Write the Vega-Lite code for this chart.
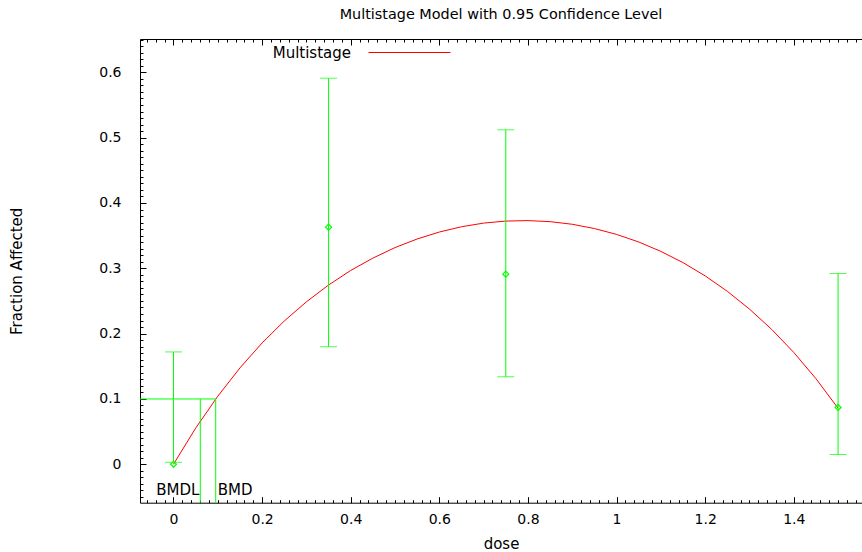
{
  "$schema": "https://vega.github.io/schema/vega-lite/v6.json",
  "width": 722,
  "height": 463.7,
  "autosize": {"type": "none"},
  "padding": {"left": 140, "top": 39, "right": 0, "bottom": 49.3},
  "background": "white",
  "title": {"text": "Multistage Model with 0.95 Confidence Level", "font": "DejaVu Sans", "fontSize": 14.4, "fontWeight": "normal", "color": "black", "offset": -11, "anchor": "middle"},
  "config": {
    "view": {"stroke": null},
    "font": "DejaVu Sans",
    "axis": {"grid": false, "domainColor": "black", "domainWidth": 1, "tickColor": "black", "tickWidth": 1, "labelColor": "black", "titleColor": "black", "labelFont": "DejaVu Sans", "labelFontSize": 14, "titleFont": "DejaVu Sans", "titleFontSize": 15, "titleFontWeight": "normal", "labelFlush": false, "labelOverlap": false}
  },
  "datasets": {
    "curve": [
      {"model": "Multistage", "dose": 0, "p": 0},
      {"model": "Multistage", "dose": 0.05, "p": 0.0553},
      {"model": "Multistage", "dose": 0.1, "p": 0.1042},
      {"model": "Multistage", "dose": 0.15, "p": 0.1475},
      {"model": "Multistage", "dose": 0.2, "p": 0.1857},
      {"model": "Multistage", "dose": 0.25, "p": 0.2193},
      {"model": "Multistage", "dose": 0.3, "p": 0.2487},
      {"model": "Multistage", "dose": 0.35, "p": 0.2744},
      {"model": "Multistage", "dose": 0.4, "p": 0.2967},
      {"model": "Multistage", "dose": 0.45, "p": 0.3156},
      {"model": "Multistage", "dose": 0.5, "p": 0.3317},
      {"model": "Multistage", "dose": 0.55, "p": 0.3449},
      {"model": "Multistage", "dose": 0.6, "p": 0.3555},
      {"model": "Multistage", "dose": 0.65, "p": 0.3636},
      {"model": "Multistage", "dose": 0.7, "p": 0.3692},
      {"model": "Multistage", "dose": 0.75, "p": 0.3723},
      {"model": "Multistage", "dose": 0.8, "p": 0.373},
      {"model": "Multistage", "dose": 0.85, "p": 0.3714},
      {"model": "Multistage", "dose": 0.9, "p": 0.3674},
      {"model": "Multistage", "dose": 0.95, "p": 0.3609},
      {"model": "Multistage", "dose": 1.0, "p": 0.3519},
      {"model": "Multistage", "dose": 1.05, "p": 0.3403},
      {"model": "Multistage", "dose": 1.1, "p": 0.3259},
      {"model": "Multistage", "dose": 1.15, "p": 0.3087},
      {"model": "Multistage", "dose": 1.2, "p": 0.2884},
      {"model": "Multistage", "dose": 1.25, "p": 0.2648},
      {"model": "Multistage", "dose": 1.3, "p": 0.2376},
      {"model": "Multistage", "dose": 1.35, "p": 0.2066},
      {"model": "Multistage", "dose": 1.4, "p": 0.1712},
      {"model": "Multistage", "dose": 1.45, "p": 0.1311},
      {"model": "Multistage", "dose": 1.5, "p": 0.0858}
    ],
    "obs": [
      {"dose": 0, "frac": 0, "lo": 0.003, "hi": 0.172},
      {"dose": 0.35, "frac": 0.363, "lo": 0.18, "hi": 0.591},
      {"dose": 0.75, "frac": 0.291, "lo": 0.134, "hi": 0.512},
      {"dose": 1.5, "frac": 0.087, "lo": 0.015, "hi": 0.292}
    ],
    "bmdlines": [
      {"x": -0.0756, "x2": 0.0953, "y": 0.1, "y2": 0.1},
      {"x": 0.0605, "x2": 0.0605, "y": 0.1, "y2": -0.0588},
      {"x": 0.0953, "x2": 0.0953, "y": 0.1, "y2": -0.0588}
    ],
    "bmdtext": [
      {"x": 0.0605, "y": -0.039, "label": "BMDL"},
      {"x": 0.0953, "y": -0.039, "label": "BMD"}
    ]
  },
  "resolve": {"axis": {"x": "independent", "y": "independent"}},
  "layer": [
    {
      "data": {"name": "curve"},
      "mark": {"type": "line", "strokeWidth": 1, "clip": true},
      "encoding": {
        "x": {"field": "dose", "type": "quantitative", "scale": {"domain": [-0.0756, 1.554], "nice": false, "zero": false},
          "axis": {"orient": "bottom", "values": [0, 0.2, 0.4, 0.6, 0.8, 1, 1.2, 1.4], "format": "~g", "tickSize": -6, "labelPadding": 16, "title": "dose", "titlePadding": 10}},
        "y": {"field": "p", "type": "quantitative", "scale": {"domain": [-0.0588, 0.651], "nice": false, "zero": false},
          "axis": {"orient": "left", "values": [0, 0.1, 0.2, 0.3, 0.4, 0.5, 0.6], "format": "~g", "tickSize": -6, "labelPadding": 25, "title": "Fraction Affected", "titlePadding": 74}},
        "color": {"field": "model", "type": "nominal", "scale": {"range": ["#ff0000"]},
          "legend": {"orient": "none", "legendX": 228, "legendY": -28, "title": null, "symbolType": "stroke", "symbolSize": 6724, "symbolStrokeWidth": 1, "labelFont": "DejaVu Sans", "labelFontSize": 15, "labelColor": "black", "labelAlign": "right", "labelOffset": -100, "padding": 0}}
      }
    },
    {
      "data": {"name": "obs"},
      "mark": {"type": "rule", "color": "#00ff00", "strokeWidth": 1},
      "encoding": {
        "x": {"field": "dose", "type": "quantitative", "scale": {"domain": [-0.0756, 1.554], "nice": false, "zero": false},
          "axis": {"orient": "bottom", "tickCount": 80, "labels": false, "domain": false, "tickSize": -3, "title": null}},
        "y": {"field": "lo", "type": "quantitative", "scale": {"domain": [-0.0588, 0.651], "nice": false, "zero": false},
          "axis": {"orient": "left", "tickCount": 70, "labels": false, "domain": false, "tickSize": -3, "title": null}},
        "y2": {"field": "hi"}
      }
    },
    {
      "data": {"name": "obs"},
      "transform": [{"fold": ["lo", "hi"], "as": ["bound", "value"]}],
      "mark": {"type": "tick", "orient": "horizontal", "color": "#00ff00", "size": 17, "thickness": 1},
      "encoding": {
        "x": {"field": "dose", "type": "quantitative", "scale": {"domain": [-0.0756, 1.554], "nice": false, "zero": false},
          "axis": {"orient": "top", "values": [0, 0.2, 0.4, 0.6, 0.8, 1, 1.2, 1.4], "labels": false, "domain": true, "tickSize": -6, "title": null}},
        "y": {"field": "value", "type": "quantitative", "scale": {"domain": [-0.0588, 0.651], "nice": false, "zero": false}, "axis": null}
      }
    },
    {
      "data": {"name": "obs"},
      "mark": {"type": "point", "shape": "diamond", "filled": false, "color": "#00ff00", "size": 36, "strokeWidth": 1.2, "opacity": 1},
      "encoding": {
        "x": {"field": "dose", "type": "quantitative", "scale": {"domain": [-0.0756, 1.554], "nice": false, "zero": false},
          "axis": {"orient": "top", "tickCount": 80, "labels": false, "domain": false, "tickSize": -3, "title": null}},
        "y": {"field": "frac", "type": "quantitative", "scale": {"domain": [-0.0588, 0.651], "nice": false, "zero": false}, "axis": null}
      }
    },
    {
      "data": {"name": "bmdlines"},
      "mark": {"type": "rule", "color": "#00ff00", "strokeWidth": 1},
      "encoding": {
        "x": {"field": "x", "type": "quantitative", "axis": null},
        "x2": {"field": "x2"},
        "y": {"field": "y", "type": "quantitative", "axis": null},
        "y2": {"field": "y2"}
      }
    },
    {
      "data": {"name": "bmdtext"},
      "transform": [{"filter": "datum.label === 'BMDL'"}],
      "mark": {"type": "text", "align": "right", "baseline": "middle", "dx": -1, "font": "DejaVu Sans", "fontSize": 15, "color": "black"},
      "encoding": {
        "x": {"field": "x", "type": "quantitative", "axis": null},
        "y": {"field": "y", "type": "quantitative", "axis": null},
        "text": {"field": "label"}
      }
    },
    {
      "data": {"name": "bmdtext"},
      "transform": [{"filter": "datum.label === 'BMD'"}],
      "mark": {"type": "text", "align": "left", "baseline": "middle", "dx": 2, "font": "DejaVu Sans", "fontSize": 15, "color": "black"},
      "encoding": {
        "x": {"field": "x", "type": "quantitative", "axis": null},
        "y": {"field": "y", "type": "quantitative", "axis": null},
        "text": {"field": "label"}
      }
    }
  ]
}
